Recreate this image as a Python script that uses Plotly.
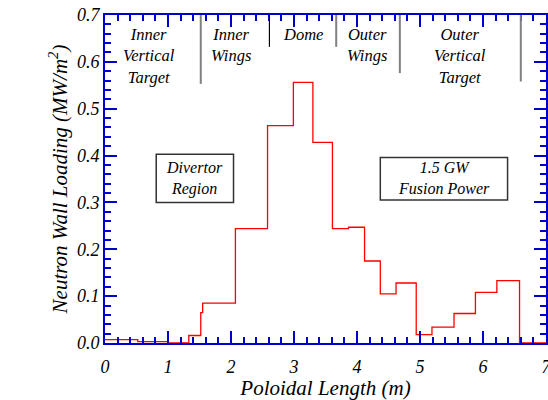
import plotly.graph_objects as go

# Step histogram: left edges of each bin and the wall loading in that bin
bin_left = [0.0, 0.52, 1.0, 1.33, 1.52, 1.55, 2.07, 2.58, 2.99, 3.30, 3.61, 3.865,
            4.12, 4.37, 4.62, 4.94, 5.19, 5.54, 5.88, 6.22, 6.58, 7.0]
wall_load = [0.007, 0.003, 0.0, 0.016, 0.065, 0.085, 0.244, 0.464, 0.556, 0.428, 0.244, 0.247,
             0.175, 0.105, 0.128, 0.018, 0.034, 0.063, 0.108, 0.133, 0.0, 0.0]

# Region dividers (x) and how far down they reach (y)
divider_x = [1.52, 2.61, 3.67, 4.68, 6.60]
divider_bottom = [0.553, 0.632, 0.632, 0.576, 0.558]
divider_color = ["#808080", "#000000", "#808080", "#808080", "#808080"]

region_labels = ["Inner<br>Vertical<br>Target", "Inner<br>Wings", "Dome",
                 "Outer<br>Wings", "Outer<br>Vertical<br>Target"]
region_x = [0.70, 2.00, 3.15, 4.16, 5.64]

x_ticks = [0, 1, 2, 3, 4, 5, 6, 7]
y_ticks = [0.0, 0.1, 0.2, 0.3, 0.4, 0.5, 0.6, 0.7]

BLUE = "#0000cc"
FONT = "Liberation Serif, Times New Roman, serif"


def it(s):
    return "<i>" + s + "</i>"


fig = go.Figure()
fig.add_trace(go.Scatter(x=bin_left, y=wall_load, mode="lines",
                         line=dict(shape="hv", color="#ff0000", width=1.3),
                         showlegend=False, hoverinfo="skip"))

shapes = []
for xv, yb, c in zip(divider_x, divider_bottom, divider_color):
    shapes.append(dict(type="line", xref="x", yref="y", x0=xv, x1=xv, y0=0.7, y1=yb,
                       line=dict(color=c, width=2 if c != "#000000" else 1.2)))
# annotation boxes
shapes.append(dict(type="rect", xref="x", yref="y", x0=0.813, x1=2.04, y0=0.300, y1=0.4026,
                   line=dict(color="#333333", width=1.5)))
shapes.append(dict(type="rect", xref="x", yref="y", x0=4.37, x1=6.39, y0=0.305, y1=0.396,
                   line=dict(color="#333333", width=1.5)))

annotations = []
for lab, xv in zip(region_labels, region_x):
    annotations.append(dict(x=xv, y=0.684, xref="x", yref="y", text=it(lab), showarrow=False,
                            xanchor="center", yanchor="top",
                            font=dict(family=FONT, size=16.5, color="black")))
annotations.append(dict(x=1.42, y=0.352, xref="x", yref="y", text=it("Divertor<br>Region"),
                        showarrow=False, xanchor="center", yanchor="middle",
                        font=dict(family=FONT, size=16, color="black")))
annotations.append(dict(x=5.38, y=0.352, xref="x", yref="y", text=it("1.5 GW<br>Fusion Power"),
                        showarrow=False, xanchor="center", yanchor="middle",
                        font=dict(family=FONT, size=16, color="black")))

axis_common = dict(showgrid=False, zeroline=False, showline=True, linecolor=BLUE, linewidth=2,
                   mirror="ticks", ticks="inside", ticklen=12, tickwidth=2, tickcolor=BLUE,
                   automargin=False, ticklabeloverflow="allow",
                   tickfont=dict(family=FONT, size=18, color="black"))

fig.update_layout(
    width=548, height=400,
    margin=dict(l=105, r=2, t=15, b=57),
    paper_bgcolor="white", plot_bgcolor="white",
    shapes=shapes, annotations=annotations,
    xaxis=dict(range=[0, 7], tickvals=x_ticks,
               ticktext=[it(str(v)) for v in x_ticks],
               ticklabelstandoff=6,
               minor=dict(dtick=0.2, ticks="inside", ticklen=6, tickwidth=2, tickcolor=BLUE),
               title=dict(text=it("Poloidal Length (m)"), standoff=5,
                          font=dict(family=FONT, size=21, color="black")),
               **axis_common),
    yaxis=dict(range=[0, 0.7], tickvals=y_ticks,
               ticktext=[it("%.1f" % v) for v in y_ticks],
               minor=dict(dtick=0.02, ticks="inside", ticklen=6, tickwidth=2, tickcolor=BLUE),
               title=dict(text=it("Neutron Wall Loading (MW/m<sup>2</sup>)"), standoff=4,
                          font=dict(family=FONT, size=21, color="black")),
               **axis_common),
)

fig.write_html("out.html", config={"displayModeBar": False},
               post_script="document.body.style.margin='0';document.body.style.overflow='hidden';")
